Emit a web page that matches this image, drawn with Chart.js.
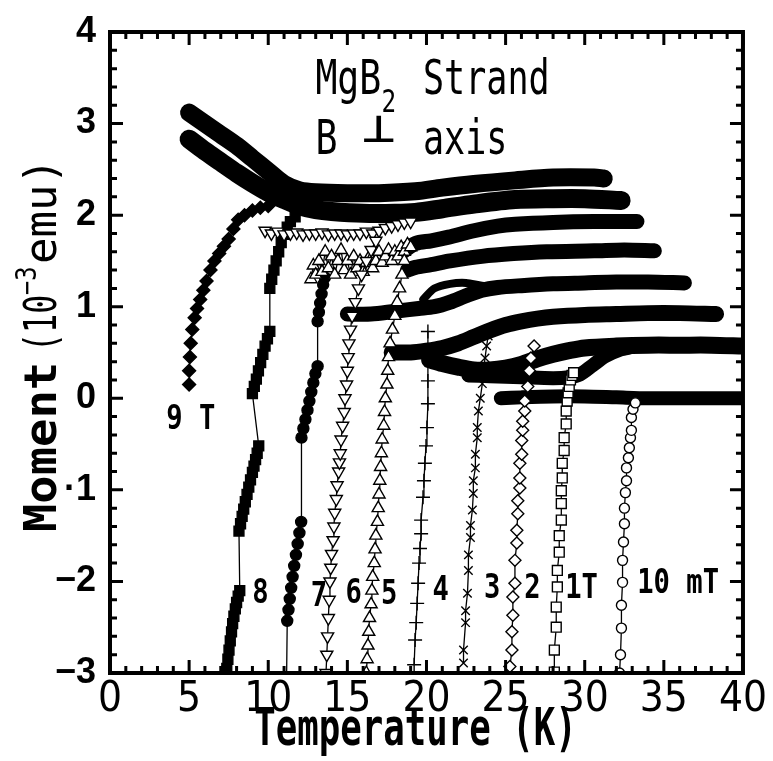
<!DOCTYPE html>
<html>
<head>
<meta charset="utf-8">
<script src="https://cdn.jsdelivr.net/npm/chart.js@4.4.1/dist/chart.umd.min.js"></script>
<style>
  html, body { margin: 0; padding: 0; background: #fff; }
</style>
</head>
<body>
<canvas id="moment-chart" width="773" height="761"></canvas>
<script>
// axis ticks
const xTickValues = [0, 5, 10, 15, 20, 25, 30, 35, 40];
const xTickLabels = ['0', '5', '10', '15', '20', '25', '30', '35', '40'];
const yTickValues = [-3, -2, -1, 0, 1, 2, 3, 4];
const yTickLabels = ['\u22123', '\u22122', '\u00b71', '0', '1', '2', '3', '4'];

// ZFC branches, [T (K), moment (1e-3 emu)]
const zfc9 = [[5.0,0.15],[5.0,0.3],[5.05,0.45],[5.1,0.6],[5.2,0.75],[5.35,0.88],[5.5,0.98],[5.7,1.08],[5.9,1.18],[6.1,1.28],[6.35,1.4],[6.6,1.5],[6.9,1.58],[7.2,1.66],[7.5,1.74],[7.8,1.85],[8.1,1.95],[8.5,2.0],[9.0,2.05],[9.5,2.08],[10.0,2.1]];
const zfc8 = [[7.3,-3.05],[7.38,-2.95],[7.45,-2.85],[7.52,-2.75],[7.6,-2.65],[7.68,-2.55],[7.75,-2.46],[7.83,-2.38],[7.92,-2.3],[8.0,-2.23],[8.1,-2.16],[8.2,-2.1],
  [8.15,-1.45],[8.25,-1.37],[8.35,-1.29],[8.45,-1.21],[8.55,-1.13],[8.66,-1.05],[8.77,-0.97],[8.88,-0.89],[9.0,-0.81],[9.1,-0.74],[9.2,-0.67],[9.3,-0.6],[9.4,-0.52],
  [9.0,0.05],[9.12,0.13],[9.25,0.21],[9.38,0.3],[9.52,0.39],[9.66,0.48],[9.8,0.57],[9.95,0.65],[10.1,0.73],
  [10.1,1.2],[10.22,1.3],[10.36,1.4],[10.5,1.5],[10.66,1.6],[10.82,1.7],[11.0,1.79],[11.2,1.87],[11.4,1.93],[11.7,1.98]];
const zfc7 = [[11.15,-3.2],[11.2,-2.43],[11.28,-2.31],[11.36,-2.19],[11.45,-2.07],[11.54,-1.95],[11.64,-1.83],[11.75,-1.71],[11.86,-1.59],[11.97,-1.47],[12.08,-1.35],
  [12.1,-0.43],[12.22,-0.33],[12.35,-0.23],[12.48,-0.13],[12.6,-0.03],[12.72,0.07],[12.85,0.17],[12.98,0.27],[13.12,0.35],
  [13.12,0.84],[13.2,0.94],[13.28,1.04],[13.37,1.14],[13.47,1.24],[13.58,1.32]];
const zfc6 = [[13.65,-3.0],[13.7,-2.8],[13.75,-2.6],[13.8,-2.4],[13.85,-2.2],[13.9,-2.0],[13.95,-1.85],[14.0,-1.7],[14.1,-1.55],[14.15,-1.4],[14.2,-1.25],[14.3,-1.1],[14.35,-0.95],[14.45,-0.8],[14.5,-0.7],[14.55,-0.6],[14.6,-0.45],[14.7,-0.3],[14.8,-0.15],[14.85,0.0],[14.95,0.15],[15.0,0.3],[15.05,0.45],[15.1,0.6],[15.2,0.75],[15.3,0.9],[15.5,1.05],[15.7,1.2],[15.9,1.35],[16.2,1.5],[16.5,1.62],[16.8,1.72]];
const zfc5 = [[16.2,-3.0],[16.25,-2.85],[16.3,-2.7],[16.35,-2.55],[16.4,-2.4],[16.5,-2.25],[16.55,-2.1],[16.6,-1.95],[16.7,-1.8],[16.75,-1.65],[16.8,-1.5],[16.9,-1.35],[16.95,-1.2],[17.0,-1.05],[17.05,-0.9],[17.1,-0.75],[17.15,-0.6],[17.2,-0.45],[17.3,-0.3],[17.35,-0.15],[17.4,0.0],[17.5,0.15],[17.55,0.3],[17.6,0.45],[17.7,0.6],[17.85,0.75],[18.0,0.9],[18.15,1.05],[18.3,1.2],[18.45,1.35],[18.6,1.5]];
const zfc4 = [[19.22,-2.91],[19.28,-2.64],[19.35,-2.45],[19.41,-2.24],[19.47,-2.02],[19.53,-1.8],[19.59,-1.64],[19.66,-1.48],[19.66,-1.33],[19.78,-1.08],[19.84,-0.9],[19.9,-0.71],[19.97,-0.52],[20.03,-0.32],[20.09,-0.06],[20.09,0.19],[20.09,0.46],[20.09,0.73]];
const zfc3 = [[22.34,-2.89],[22.34,-2.75],[22.47,-2.45],[22.47,-2.32],[22.59,-2.13],[22.65,-1.88],[22.65,-1.71],[22.78,-1.52],[22.78,-1.39],[22.9,-1.22],[22.96,-1.04],[22.96,-0.9],[23.09,-0.76],[23.09,-0.61],[23.21,-0.43],[23.21,-0.32],[23.28,-0.14],[23.4,0.0],[23.53,0.16],[23.6,0.3],[23.7,0.44],[23.8,0.57],[23.9,0.68]];
const zfc2 = [[25.27,-2.93],[25.4,-2.75],[25.4,-2.55],[25.46,-2.37],[25.46,-2.17],[25.59,-2.02],[25.59,-1.77],[25.71,-1.58],[25.71,-1.44],[25.77,-1.26],[25.77,-1.12],[25.9,-0.98],[25.9,-0.87],[25.9,-0.71],[26.02,-0.61],[26.02,-0.46],[26.08,-0.35],[26.08,-0.25],[26.21,-0.14],[26.21,-0.03],[26.4,0.13],[26.5,0.3],[26.6,0.44],[26.8,0.57]];
const zfc1 = [[28.08,-2.99],[28.08,-2.75],[28.2,-2.5],[28.2,-2.28],[28.27,-2.06],[28.27,-1.88],[28.39,-1.68],[28.39,-1.5],[28.52,-1.33],[28.52,-1.15],[28.52,-1.01],[28.58,-0.87],[28.58,-0.71],[28.7,-0.57],[28.7,-0.43],[28.83,-0.28],[28.83,-0.14],[28.89,-0.03],[28.95,0.06],[29.02,0.13],[29.1,0.2],[29.2,0.25],[29.3,0.28]];
const zfc10m = [[32.2,-3.0],[32.26,-2.8],[32.32,-2.51],[32.32,-2.26],[32.39,-2.01],[32.39,-1.77],[32.45,-1.57],[32.51,-1.37],[32.51,-1.2],[32.57,-1.03],[32.64,-0.9],[32.64,-0.76],[32.76,-0.65],[32.82,-0.54],[32.89,-0.43],[32.95,-0.35],[32.95,-0.21],[33.05,-0.12],[33.2,-0.05]];

// field-cooled rows drawn as marker rows
const fc6 = [[9.8,1.83],[10.2,1.8],[10.6,1.82],[11.0,1.79],[11.4,1.8],[11.8,1.81],[12.2,1.79],[12.6,1.8],[13.0,1.8],[13.4,1.81],[13.8,1.79],[14.2,1.8],[14.6,1.8],[15.0,1.79],[15.4,1.8],[15.8,1.8],[16.2,1.82],[16.6,1.8],[17.0,1.83],[17.4,1.86],[17.8,1.88],[18.2,1.9],[18.6,1.92],[19.0,1.93]];
const fc5 = [[12.7,1.3],[12.85,1.45],[13.0,1.35],[13.2,1.5],[13.4,1.38],[13.6,1.6],[13.8,1.42],[14.0,1.55],[14.2,1.35],[14.4,1.5],[14.6,1.62],[14.8,1.4],[15.0,1.5],[15.2,1.35],[15.4,1.55],[15.6,1.42],[15.8,1.5],[16.0,1.38],[16.2,1.48],[16.4,1.55],[16.6,1.42],[16.8,1.5],[17.0,1.6],[17.2,1.48],[17.4,1.55],[17.6,1.62],[17.8,1.5],[18.0,1.6],[18.2,1.55],[18.4,1.65],[18.6,1.6],[18.8,1.68],[19.0,1.65]];

// dense normal-state / FC bands
const bandA = [[5,3.12],[6,3.0],[7,2.88],[8,2.76],[9,2.62],[10,2.48],[11,2.34],[12,2.27],[13,2.25],[15,2.24],[17,2.24],[19.3,2.26],[21,2.3],[23,2.34],[25.6,2.38],[28,2.41],[30.6,2.41],[31.2,2.4]];
const bandB = [[5,2.83],[6,2.7],[7,2.58],[8,2.46],[9,2.35],[10,2.25],[11,2.17],[12,2.1],[13,2.06],[14,2.04],[16,2.02],[18,2.02],[19.3,2.03],[21,2.07],[23,2.12],[25.6,2.17],[28,2.18],[30,2.18],[32.3,2.16]];
const bandC = [[18.5,1.6],[19.3,1.69],[20.3,1.72],[21.4,1.76],[23,1.83],[24.5,1.88],[25.6,1.9],[28,1.92],[30.6,1.93],[33.3,1.93]];
const bandD = [[18.8,1.4],[19.3,1.43],[20.3,1.46],[21.5,1.5],[23.5,1.55],[25.5,1.58],[27.6,1.6],[30.6,1.61],[32.5,1.62],[34.4,1.61]];
const bandE = [[15,0.92],[16.5,0.92],[18,0.95],[19.5,0.98],[20.5,1.0],[21.5,1.05],[22.5,1.12],[23.5,1.18],[24.5,1.21],[26,1.23],[28,1.25],[30,1.26],[32,1.27],[34,1.27],[36.3,1.26]];
const bandE2 = [[19.8,1.08],[20.5,1.2],[21.5,1.25],[22.5,1.26],[23.5,1.23],[24.5,1.22]];
const bandF = [[17.8,0.5],[19,0.5],[20,0.52],[21,0.55],[22,0.6],[23,0.67],[24,0.74],[25,0.8],[26,0.84],[27,0.87],[28,0.89],[30,0.91],[32,0.92],[34,0.93],[36,0.93],[38.3,0.92]];
const bandG = [[20.2,0.42],[21,0.38],[22,0.34],[23,0.31],[24,0.31],[25,0.33],[26,0.37],[27,0.43],[28,0.48],[29,0.52],[30,0.55],[32,0.57],[34,0.58],[36,0.58],[38,0.58],[40,0.57]];
const bandH = [[22.65,0.25],[24,0.24],[26,0.23],[28,0.22],[29,0.23],[29.7,0.26],[30.5,0.36],[31.3,0.46],[32.2,0.53],[33,0.56]];
const band10m = [[24.7,0.0],[26,0.01],[28,0.02],[30,0.02],[32,0.01],[34,0.0],[36,0.0],[38,0.0],[40,0.0]];

// text inside the plot, anchored in data units
const curveLabels = ['9 T', '8', '7', '6', '5', '4', '3', '2', '1T', '10 mT'];
const curveLabelT = [5.1, 9.5, 13.2, 15.4, 17.65, 20.9, 24.15, 26.7, 29.8, 35.9];
const curveLabelM = [-0.2, -2.1, -2.14, -2.1, -2.11, -2.07, -2.05, -2.05, -2.05, -2.0];

const pts = arr => arr.map(([x, y]) => ({ x, y }));

function markerSet(arr, style, radius, filled, rotation) {
  return {
    data: pts(arr),
    showLine: true,
    borderColor: '#000',
    borderWidth: 1.3,
    pointStyle: style,
    pointRadius: radius,
    pointRotation: rotation || 0,
    pointBackgroundColor: filled ? '#000' : '#fff',
    pointBorderColor: '#000',
    pointBorderWidth: 1.4,
    order: 1
  };
}

function bandSet(arr, width) {
  return {
    data: pts(arr),
    showLine: true,
    borderColor: '#000',
    borderWidth: width || 15,
    borderCapStyle: 'round',
    borderJoinStyle: 'round',
    tension: 0.3,
    pointRadius: 0,
    order: 5
  };
}

const datasets = [
  markerSet(zfc10m, 'circle', 5, false),
  markerSet(zfc1, 'rect', 7, false),
  markerSet(zfc2, 'rectRot', 6, false),
  markerSet(zfc3, 'crossRot', 6, false),
  markerSet(zfc4, 'cross', 7, false),
  markerSet(zfc5, 'triangle', 7, false),
  markerSet(zfc6, 'triangle', 7, false, 180),
  markerSet(fc6, 'triangle', 7, false, 180),
  markerSet(fc5, 'triangle', 7, false),
  markerSet(zfc7, 'circle', 5.5, true),
  markerSet(zfc8, 'rect', 7, true),
  markerSet(zfc9, 'rectRot', 6.5, true),
  bandSet(bandA, 18),
  bandSet(bandB, 19),
  bandSet(bandC, 15),
  bandSet(bandD, 15),
  bandSet(bandE, 15),
  bandSet(bandE2, 8),
  bandSet(bandF, 16),
  bandSet(bandG, 17),
  bandSet(bandH, 14),
  bandSet(band10m, 14)
];

function narrowText(ctx, str, x, y, size, sx, weight, align) {
  ctx.save();
  ctx.font = `${weight} ${size}px "DejaVu Sans Mono"`;
  ctx.textBaseline = 'alphabetic';
  ctx.textAlign = align || 'left';
  ctx.translate(x, y);
  ctx.scale(sx, 1);
  ctx.fillStyle = '#000';
  ctx.fillText(str, 0, 0);
  ctx.restore();
}

// frame with inward ticks on all four sides, plus the text inside the plot
const framePlugin = {
  id: 'frame',
  afterDatasetsDraw(chart) {
    const { ctx, chartArea: a, scales: { x, y } } = chart;
    ctx.save();
    ctx.strokeStyle = '#000';
    ctx.lineWidth = 3;
    for (let v = 0; v <= 40; v += 1) {
      const px = x.getPixelForValue(v);
      const len = v % 5 === 0 ? 13 : 7;
      ctx.beginPath();
      ctx.moveTo(px, a.bottom); ctx.lineTo(px, a.bottom - len);
      ctx.moveTo(px, a.top); ctx.lineTo(px, a.top + len);
      ctx.stroke();
    }
    for (let i = 0; i <= 35; i++) {
      const v = -3 + i * 0.2;
      const py = y.getPixelForValue(v);
      const len = i % 5 === 0 ? 13 : 7;
      ctx.beginPath();
      ctx.moveTo(a.left, py); ctx.lineTo(a.left + len, py);
      ctx.moveTo(a.right, py); ctx.lineTo(a.right - len, py);
      ctx.stroke();
    }
    ctx.lineWidth = 4;
    ctx.strokeRect(a.left, a.top, a.right - a.left, a.bottom - a.top);
    ctx.restore();
  },
  afterDraw(chart) {
    const { ctx, chartArea: a, scales: { x, y } } = chart;
    // sample description
    const tx = x.getPixelForValue(12.98);
    const sx2 = x.getPixelForValue(19.78);
    const l1 = y.getPixelForValue(3.32);
    const l2 = y.getPixelForValue(2.67);
    narrowText(ctx, 'MgB', tx, l1, 48, 0.76, 'normal');
    narrowText(ctx, '2', tx + 66, l1 + 18, 32, 0.76, 'normal');
    narrowText(ctx, 'Strand', sx2, l1, 48, 0.73, 'normal');
    narrowText(ctx, 'B', tx, l2, 48, 0.76, 'normal');
    narrowText(ctx, '\u22a5', tx + 46, l2 - 12, 42, 1.35, 'normal');
    narrowText(ctx, 'axis', sx2, l2, 48, 0.73, 'normal');
    // field labels
    curveLabels.forEach((s, i) => {
      const px = x.getPixelForValue(curveLabelT[i]);
      const py = y.getPixelForValue(curveLabelM[i]);
      narrowText(ctx, s, px, py + 12, 34, 0.8, 'bold', 'center');
    });
    // axis titles
    narrowText(ctx, 'Temperature (K)', (a.left + a.right) / 2 - 11, 745, 51, 0.7, 'bold', 'center');
    ctx.save();
    ctx.translate(56, 532);
    ctx.rotate(-Math.PI / 2);
    narrowText(ctx, 'Moment', 0, 0, 44, 1.07, 'bold');
    narrowText(ctx, '(10', 180, 0, 44, 0.72, 'normal');
    narrowText(ctx, '\u22123', 237, -20, 28, 0.85, 'normal');
    narrowText(ctx, 'emu)', 268, 0, 44, 1.0, 'normal');
    ctx.restore();
  }
};

new Chart(document.getElementById('moment-chart').getContext('2d'), {
  type: 'scatter',
  data: { datasets },
  options: {
    responsive: false,
    animation: false,
    layout: { padding: { left: 0, right: 22, top: 30, bottom: 0 } },
    plugins: { legend: { display: false }, tooltip: { enabled: false } },
    scales: {
      x: {
        type: 'linear', min: 0, max: 40,
        afterFit: s => { s.height = 88; },
        afterBuildTicks: s => { s.ticks = xTickValues.map(v => ({ value: v })); },
        grid: { display: false, drawTicks: false },
        border: { display: false },
        ticks: {
          autoSkip: false, maxRotation: 0, padding: 6, color: '#000',
          font: { family: '"Liberation Sans Narrow", "DejaVu Sans Condensed", sans-serif', size: 42, lineHeight: 1 },
          callback: v => xTickLabels[xTickValues.indexOf(v)]
        }
      },
      y: {
        type: 'linear', min: -3, max: 4,
        afterFit: s => { s.width = 110; },
        afterBuildTicks: s => { s.ticks = yTickValues.map(v => ({ value: v })); },
        grid: { display: false, drawTicks: false },
        border: { display: false },
        ticks: {
          autoSkip: false, padding: 14, color: '#000',
          font: { family: '"Liberation Sans", Arial, sans-serif', size: 36, weight: 'bold', lineHeight: 1 },
          callback: v => yTickLabels[yTickValues.indexOf(v)]
        }
      }
    }
  },
  plugins: [framePlugin]
});
</script>
</body>
</html>
